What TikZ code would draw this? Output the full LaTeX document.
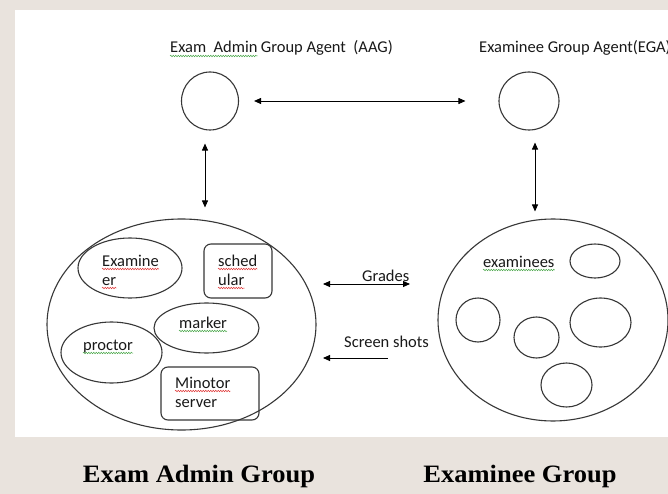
\documentclass[tikz,border=0pt]{standalone}
\usepackage{fontspec}
\setmainfont{Carlito}
\newfontfamily\timesb{Liberation Serif}
\usetikzlibrary{shapes.geometric,arrows.meta,decorations.pathmorphing}
\definecolor{bgbeige}{RGB}{233,227,221}
\definecolor{shapeline}{RGB}{55,55,55}
\definecolor{spellred}{RGB}{225,60,60}
\definecolor{spellgreen}{RGB}{80,170,80}
\begin{document}
\begin{tikzpicture}[x=1pt,y=-1pt,
  lbl/.style={font=\fontsize{16.5}{19}\selectfont, inner sep=0pt, anchor=base west, text=black!90},
  ttl/.style={font=\fontsize{16.5}{19}\selectfont, inner sep=0pt, anchor=base west, text=black!90},
  grp/.style={font=\timesb\bfseries\fontsize{25}{28}\selectfont, inner sep=0pt, anchor=base, xscale=1.06},
  oval/.style={ellipse, draw=shapeline, line width=1.1pt, inner sep=0pt},
  rbox/.style={draw=shapeline, line width=1.1pt, rounded corners=7pt, inner sep=0pt},
  conn/.style={line width=0.9pt, black, {Triangle[length=7pt,width=6pt]}-{Triangle[length=7pt,width=6pt]}},
  connl/.style={line width=0.9pt, black, {Triangle[length=7pt,width=6pt]}-},
  sq/.style={decorate, decoration={snake, amplitude=0.8pt, segment length=2.5pt}, line width=0.5pt},
]
\useasboundingbox (0,0) rectangle (668,494);
\fill[bgbeige] (0,0) rectangle (668,494);
\fill[white] (15,10) rectangle (668,437);
\clip (0,0) rectangle (668,494);

% titles
\node[ttl] (aagA) at (170,53) {Exam\ \ Admin};
\node[ttl] (aagB) at ([xshift=3pt]aagA.base east) {Group Agent\ \ (AAG)};
\node[ttl] (egat) at (479,53) {Examinee Group Agent(EGA)};
\draw[sq, spellgreen] ([yshift=-3pt]aagA.base west) -- ([yshift=-3pt]aagA.base east);

% agent circles
\node[oval, minimum width=57pt, minimum height=58pt] (aag) at (210,101) {};
\node[oval, minimum width=60pt, minimum height=58pt] (egac) at (529,101) {};

% big group ellipses
\node[oval, minimum width=269pt, minimum height=211pt] (adm) at (181.5,324.5) {};
\node[oval, minimum width=230pt, minimum height=202pt] (exg) at (553,320) {};

% agent arrows
\draw[conn] ([xshift=15pt]aag.east) -- ([xshift=-33pt]egac.west);
\coordinate (l1) at ([xshift=-5pt,yshift=-13pt]aag.south);
\coordinate (l2) at ([yshift=11pt]adm.north);
\draw[conn] (l1) -- (l1 |- l2);
\coordinate (r1) at ([xshift=6pt,yshift=-12pt]egac.south);
\coordinate (r2) at ([yshift=7pt]exg.north);
\draw[conn] (r1) -- (r1 |- r2);

% admin group members
\node[oval, minimum width=104pt, minimum height=60pt] (exr) at (130,268) {};
\node[rbox, minimum width=68pt, minimum height=54pt] (sch) at (238,271) {};
\node[oval, minimum width=105pt, minimum height=50pt] (mrk) at (206.5,328) {};
\node[oval, minimum width=101pt, minimum height=61pt] (prc) at (111.5,352.5) {};
\node[rbox, minimum width=98pt, minimum height=53pt] (mon) at (210,393.5) {};

\node[lbl] (exr1) at (102,266) {Examine};
\node[lbl] (exr2) at (102,285) {er};
\node[lbl] (sch1) at (218,266) {sched};
\node[lbl] (sch2) at (218,285) {ular};
\node[lbl] (mrkt) at (179,328) {marker};
\node[lbl] (prct) at (83,350) {proctor};
\node[lbl] (mon1) at (175,388) {Minotor};
\node[lbl] (mon2) at (175,407) {server};

\foreach \n in {exr1,exr2,sch1,sch2,mon1}
  \draw[sq, spellred] ([yshift=-3pt]\n.base west) -- ([yshift=-3pt]\n.base east);
\foreach \n in {mrkt,prct}
  \draw[sq, spellgreen] ([yshift=-3pt]\n.base west) -- ([yshift=-3pt]\n.base east);

% examinee group members
\node[lbl] (exmt) at (483,267) {examinees};
\draw[sq, spellgreen] ([yshift=-3pt]exmt.base west) -- ([yshift=-3pt]exmt.base east);
\node[oval, minimum width=50pt, minimum height=34pt] (e1) at (595,261) {};
\node[oval, minimum width=44pt, minimum height=44pt] (e2) at (478,320) {};
\node[oval, minimum width=45pt, minimum height=41pt] (e3) at (536.5,337.5) {};
\node[oval, minimum width=61pt, minimum height=49pt] (e4) at (600.5,322.5) {};
\node[oval, minimum width=51pt, minimum height=44pt] (e5) at (566.5,385) {};

% group-to-group arrows
\node[lbl] (grd) at (362,281) {Grades};
\node[lbl] (scr) at (344,347) {Screen shots};
\coordinate (gL) at (323,284);
\coordinate (gR) at (410,284);
\draw[conn] (gL) -- (gR);
\coordinate (sL) at (323,358);
\coordinate (sR) at (388,358);
\draw[connl] (sL) -- (sR);

% group captions
\node[grp] (capA) at (199,482) {Exam Admin Group};
\node[grp] (capB) at (520,482) {Examinee Group};
\end{tikzpicture}
\end{document}
